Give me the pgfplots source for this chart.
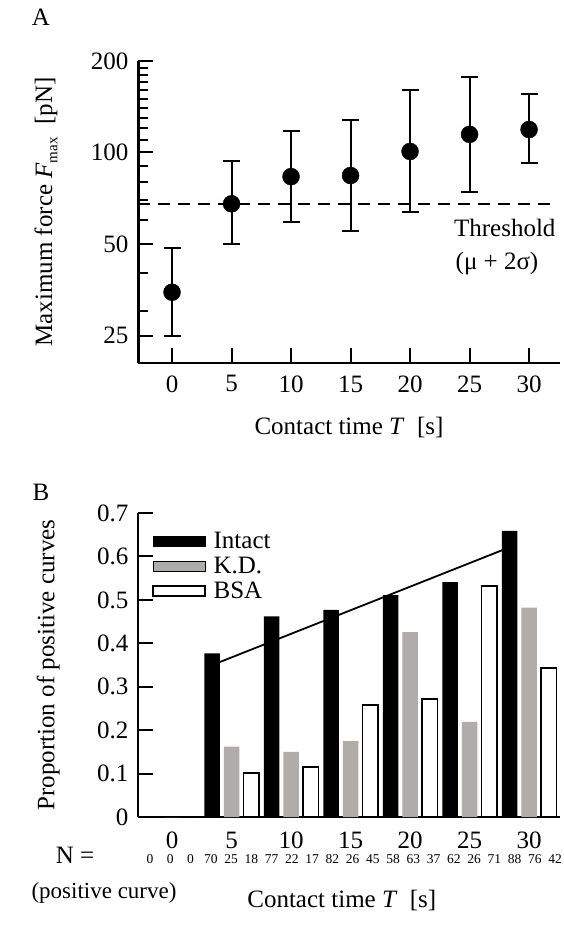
\documentclass[border=0pt]{standalone}
\usepackage{fontspec}
\setmainfont{Liberation Serif}
\usepackage{pgfplots}
\usepackage{pgfplotstable}
\pgfplotsset{compat=1.18}
\definecolor{kdgray}{RGB}{175,172,170}

\pgfplotstableread{
T  mean  ep    em
0  34.7  13.8  9.7
5  67.8  26.2  17.8
10 83.3  34.7  24.2
15 84.0  43.6  28.8
20 100.8 59.2  37.0
25 114.7 62.3  40.4
30 119.0 36.6  26.3
}\forcedata

\pgfplotstableread{
T  intact kd    bsa
0  0      0     0
5  0.377  0.162 0.101
10 0.462  0.150 0.115
15 0.477  0.175 0.258
20 0.511  0.426 0.272
25 0.541  0.219 0.532
30 0.659  0.482 0.343
}\propdata

\newcommand{\bigfont}{\fontsize{25}{29}\selectfont}

\begin{document}
\begin{tikzpicture}
\useasboundingbox (0pt,0pt) rectangle (563pt,-940pt);

% Panel labels
\node[font=\bigfont] at (41pt,-17pt) {A};
\node[font=\bigfont] at (41pt,-492pt) {B};

% ---------- Panel A ----------
\begin{axis}[
  at={(138pt,-363pt)}, anchor=south west,
  scale only axis, width=422pt, height=302pt,
  xmin=-2.86, xmax=32.6,
  ymode=log, ymin=20.3, ymax=200,
  axis x line*=bottom, axis y line*=left,
  x axis line style={line width=2pt},
  y axis line style={line width=3pt},
  xtick={0,5,10,15,20,25,30},
  xticklabels={0,5,10,15,20,25,30},
  ytick={25,50,100,200}, yticklabels={25,50,100,200},
  minor ytick={30,40,60,70,80,90,110,120,130,140,150,160,170,180,190},
  tick align=inside,
  major tick length=15pt, minor tick length=10pt,
  major tick style={black, line width=2pt},
  minor tick style={black, line width=2pt},
  tick label style={font=\bigfont},
  xticklabel style={yshift=-9pt},
  yticklabel style={xshift=-6pt},
  label style={font=\bigfont},
  xlabel={Contact time \textit{T}\ \ [s]},
  xlabel style={at={(axis description cs:0.5,-0.212)}, anchor=center},
  ylabel={Maximum force \textit{F}\raisebox{-0.45ex}{\fontsize{15}{15}\selectfont max}\ \ [pN]},
  ylabel style={at={(axis description cs:-0.218,0.5)}, anchor=center},
  clip=false,
]
\addplot[black, line width=2.2pt, dash pattern=on 12pt off 8pt]
  coordinates {(-2.86,67.8) (32.2,67.8)};
\addplot[black, only marks, mark=*, mark size=8.5pt,
  error bars/.cd, y dir=both, y explicit,
  error bar style={line width=2pt, black},
  error mark options={rotate=90, mark size=8.5pt, line width=2pt, black}]
  table[x=T, y=mean, y error plus=ep, y error minus=em] {\forcedata};
\end{axis}

\node[font=\bigfont, anchor=east] at (559pt,-228pt) {Threshold};
\node[font=\bigfont] at (497pt,-263pt) {(μ + 2σ)};

% ---------- Panel B ----------
\begin{axis}[
  at={(138pt,-817pt)}, anchor=south west,
  scale only axis, width=422pt, height=304pt,
  xmin=-2.86, xmax=32.6, ymin=0, ymax=0.7,
  axis x line*=bottom, axis y line*=left,
  x axis line style={line width=2.2pt},
  y axis line style={line width=2.2pt},
  xtick={0,5,10,15,20,25,30},
  xticklabels={0,5,10,15,20,25,30},
  x tick style={draw=none},
  ytick={0,0.1,0.2,0.3,0.4,0.5,0.6,0.7},
  yticklabels={0,0.1,0.2,0.3,0.4,0.5,0.6,0.7},
  tick align=inside, major tick length=15pt,
  y tick style={black, line width=2pt},
  tick label style={font=\bigfont},
  xticklabel style={yshift=3.5pt},
  yticklabel style={xshift=-6pt},
  label style={font=\bigfont},
  xlabel={Contact time \textit{T}\ \ [s]},
  xlabel style={at={(axis description cs:0.483,-0.273)}, anchor=center},
  ylabel={Proportion of positive curves},
  ylabel style={at={(axis description cs:-0.213,0.5)}, anchor=center},
  ybar, bar width=15.5pt,
  legend image code/.code={\draw[#1] (0pt,-5pt) rectangle (52pt,5pt);},
  legend style={at={(axis description cs:0.033,0.938)}, anchor=north west,
    draw=none, fill=none, font=\bigfont, inner sep=0pt, row sep=7pt,
    column sep=8pt, nodes={inner sep=0pt},
    cells={anchor=west}},
  clip=false,
]
\addplot[fill=black, draw=none, bar shift=-19.5pt] table[x=T, y=intact] {\propdata};
\addplot[fill=kdgray, draw=none, bar shift=0pt] table[x=T, y=kd] {\propdata};
\addplot[fill=white, draw=black, line width=1.5pt, bar shift=19.5pt] table[x=T, y=bsa] {\propdata};
\addplot[sharp plot, black, line width=1.8pt, no marks] coordinates {(4.03,0.357) (27.8,0.615)};
\legend{Intact,K.D.,BSA}
\end{axis}

% N row
\node[font=\bigfont] at (75pt,-855pt) {N =};
\node[font=\fontsize{23}{27}\selectfont] at (104pt,-893pt) {(positive curve)};
\foreach \v [count=\i from 0] in {0,0,0,70,25,18,77,22,17,82,26,45,58,63,37,62,26,71,88,76,42}{
  \node[font=\fontsize{13.5}{15}\selectfont] at ({150pt+20.25pt*\i},-859pt) {\v};
}
\end{tikzpicture}
\end{document}
